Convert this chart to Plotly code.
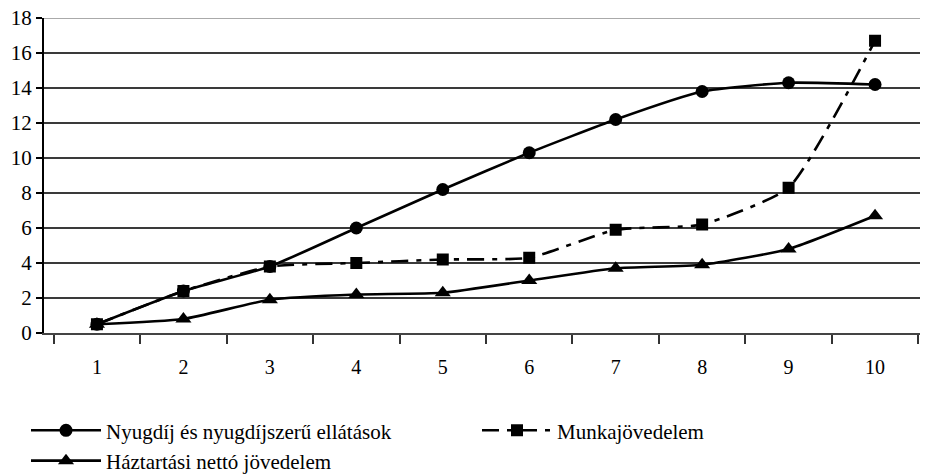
import plotly.graph_objects as go

categories = ["1", "2", "3", "4", "5", "6", "7", "8", "9", "10"]
nyugdij = [0.5, 2.4, 3.8, 6.0, 8.2, 10.3, 12.2, 13.8, 14.3, 14.2]
munka = [0.5, 2.4, 3.8, 4.0, 4.2, 4.3, 5.9, 6.2, 8.3, 16.7]
haztartasi = [0.5, 0.8, 1.9, 2.2, 2.3, 3.0, 3.7, 3.9, 4.8, 6.7]
y_ticks = [0, 2, 4, 6, 8, 10, 12, 14, 16, 18]

FONT = "Liberation Serif"

fig = go.Figure()
fig.add_trace(go.Scatter(
    x=categories, y=nyugdij, name="Nyugdíj és nyugdíjszerű ellátások",
    mode="lines+markers", line=dict(color="black", width=2.6, shape="spline", smoothing=0.5),
    marker=dict(symbol="circle", size=13, color="black")))
fig.add_trace(go.Scatter(
    x=categories, y=munka, name="Munkajövedelem",
    mode="lines+markers", line=dict(color="black", width=2.6, shape="spline", smoothing=0.5,
                                    dash="17px,8px,5px,8px"),
    marker=dict(symbol="square", size=12, color="black")))
fig.add_trace(go.Scatter(
    x=categories, y=haztartasi, name="Háztartási nettó jövedelem",
    mode="lines+markers", line=dict(color="black", width=2.6, shape="spline", smoothing=0.5),
    marker=dict(symbol="triangle-up", size=14, color="black")))

# lighter top border line at the maximum of the value axis
fig.add_shape(type="line", xref="paper", yref="y", x0=0, x1=1, y0=y_ticks[-1], y1=y_ticks[-1],
              line=dict(color="#aaaaaa", width=2), layer="above")

fig.update_layout(
    width=920, height=500,
    margin=dict(l=36, r=0, t=10, b=175),
    paper_bgcolor="white", plot_bgcolor="white",
    font=dict(family=FONT, size=20, color="black"),
    showlegend=True,
    legend=dict(orientation="h", x=-0.0192, y=-0.245, xanchor="left", yanchor="top",
                itemwidth=70, entrywidth=366, entrywidthmode="pixels",
                font=dict(family=FONT, size=21, color="black"),
                tracegroupgap=0, itemclick=False, bgcolor="rgba(0,0,0,0)"),
)
fig.update_xaxes(
    type="category", tickson="boundaries", ticks="outside", ticklen=9, tickwidth=1.5,
    tickcolor="#333", showline=True, linecolor="#444", linewidth=2, automargin=False,
    showgrid=False, ticklabelstandoff=15, tickfont=dict(family=FONT, size=20),
    ticklabeloverflow="allow",
)
fig.update_yaxes(
    range=[0, 18], tickvals=y_ticks, ticks="outside", ticklen=6, tickwidth=1.5,
    tickcolor="black", showline=True, linecolor="black", linewidth=2, automargin=False,
    showgrid=True, gridcolor="#3a3a3a", gridwidth=2, zeroline=False,
    tickfont=dict(family=FONT, size=21), ticklabeloverflow="allow",
)

fig.write_html("out.html")
